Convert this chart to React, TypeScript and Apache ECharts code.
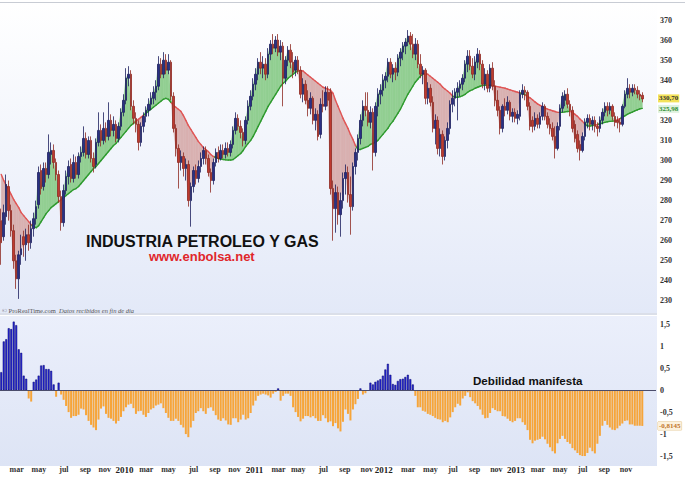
import React, { useEffect, useRef } from "react";
import * as echarts from "echarts";

// Weekly bars, first bar = week of Monday 2008-12-29
const FIRST_WEEK = "2008-12-29";
const EMPTY_WEEKS_AFTER = 5;
const MONTH_NAMES = ["ene", "feb", "mar", "abr", "may", "jun", "jul", "ago", "sep", "oct", "nov", "dic"];

const OPEN = [
  270,262,272,287,275,265,250,241,253,262,
  258,263,259,266,271,278,295,287,296,293,
  303,305,299,293,282,269,285,292,298,291,
  299,293,302,304,311,303,310,301,298,309,
  315,310,316,312,320,315,318,311,317,324,
  330,341,343,327,321,318,309,317,322,325,
  328,331,334,337,348,343,350,345,349,332,
  316,306,299,302,296,298,280,287,295,291,
  297,301,305,301,294,290,299,304,301,305,
  303,306,304,308,315,321,317,314,310,320,
  327,332,338,343,349,346,348,343,353,358,
  356,360,354,357,341,350,355,349,345,350,
  345,333,338,330,326,331,320,323,313,328,
  327,334,334,286,276,284,273,280,291,294,
  283,277,297,304,311,320,327,325,319,324,
  304,327,333,335,340,342,349,343,346,344,
  351,354,357,359,362,358,353,358,348,343,
  345,331,336,329,316,320,306,313,302,310,
  316,328,331,334,336,338,341,348,352,347,
  343,349,353,348,338,343,336,346,337,330,
  325,316,327,325,329,322,324,321,322,333,
  335,334,327,320,317,321,318,322,327,322,
  318,316,312,306,317,326,330,333,328,325,
  318,313,308,305,312,319,321,318,320,317,
  316,320,324,327,325,327,322,320,319,318,
  327,333,336,334,336,335,333,332.5
];
const HIGH = [
  276,278,293,290,278,268,253,255,263,265,
  266,268,270,274,280,297,298,299,299,313,
  309,308,301,295,285,288,295,300,301,303,
  302,304,307,317,314,312,312,304,311,324,
  318,324,319,329,323,322,320,319,326,333,
  346,347,345,330,324,320,319,324,327,331,
  334,337,340,352,351,354,353,353,350,334,
  318,308,305,304,301,300,289,297,298,300,
  304,307,307,303,296,301,306,307,308,308,
  309,309,310,317,324,323,320,316,322,330,
  335,341,346,351,354,352,351,356,360,363,
  362,363,360,359,352,357,358,354,352,352,
  347,341,340,335,334,332,326,325,331,335,
  337,337,336,290,288,287,284,294,298,297,
  292,299,306,313,323,330,334,334,327,326,
  329,336,338,343,344,351,351,348,349,353,
  356,359,361,365,364,363,361,360,353,347,
  346,339,338,332,323,322,316,315,312,319,
  330,335,336,339,340,343,350,355,355,351,
  352,356,355,350,346,345,348,349,340,335,
  327,328,331,332,330,326,326,325,335,338,
  337,335,329,322,324,323,324,329,328,324,
  321,319,317,319,328,334,335,336,330,327,
  320,315,310,314,321,323,323,322,322,319,
  322,326,329,329,329,328,324,322,321,328,
  335,341,338,338,338,337,335,334
];
const LOW = [
  248,260,268,270,262,246,236,231,248,252,
  250,255,256,262,268,276,283,285,289,291,
  298,296,290,279,265,267,283,288,289,289,
  291,291,299,302,301,301,299,294,296,307,
  307,308,309,310,312,312,309,309,315,322,
  328,337,325,318,314,305,307,314,319,322,
  325,328,330,335,341,341,343,343,330,314,
  302,286,295,292,290,277,267,284,288,289,
  294,298,298,292,284,288,297,299,300,301,
  301,302,302,306,313,315,311,307,308,318,
  325,330,335,340,343,341,340,341,350,353,
  354,352,350,327,338,347,346,341,342,343,
  331,329,328,322,323,318,315,310,311,324,
  325,327,283,260,264,268,262,276,283,279,
  263,275,293,300,308,317,322,317,316,295,
  302,322,328,332,336,339,341,339,340,342,
  347,350,353,357,355,351,350,346,341,338,
  328,328,327,314,308,303,302,298,300,306,
  313,324,327,320,332,335,339,344,345,341,
  340,346,345,336,335,334,334,335,327,322,
  313,314,322,323,320,319,319,318,320,331,
  330,325,315,314,315,316,316,320,320,316,
  313,310,301,305,315,324,327,326,322,314,
  309,304,300,304,310,316,315,315,314,312,
  314,318,322,322,323,320,317,316,314,317,
  326,331,331,332,333,331,330,329
];
const CLOSE = [
  259,274,288,275,265,250,241,253,256,258,
  263,259,266,271,277,294,286,296,293,304,
  305,299,293,282,269,285,292,297,291,299,
  293,302,304,311,303,310,301,297,309,315,
  310,316,312,320,315,318,311,317,324,330,
  341,343,327,321,318,309,317,322,325,328,
  331,334,337,348,343,350,345,349,332,316,
  306,299,302,296,298,280,287,295,291,297,
  301,305,301,294,290,299,304,301,305,303,
  306,304,308,315,321,317,314,310,320,327,
  332,338,343,349,346,348,343,353,358,356,
  360,354,357,341,350,355,349,344,350,345,
  333,338,330,326,331,320,323,312,328,327,
  334,330,286,276,284,273,280,291,294,283,
  277,297,304,311,320,327,325,319,324,304,
  327,333,335,340,342,349,343,346,344,351,
  354,357,359,362,358,353,358,348,343,345,
  331,336,329,316,320,306,313,302,310,316,
  328,331,334,336,338,341,348,352,347,343,
  349,353,348,338,343,336,346,337,330,325,
  316,327,325,329,322,324,321,323,333,335,
  334,327,317,317,321,318,322,327,322,318,
  316,312,306,317,326,332,333,328,325,316,
  311,306,305,312,319,321,318,320,317,316,
  320,324,327,325,327,322,319,319,318,327,
  333,336,334,336,335,333,332,330.7
];
const MA = [
  293,290,287.5,285.5,283,280.5,278.5,276.5,274,272.5,
  271,269.5,268,267,266.5,267.5,269.5,271.5,273.5,275,
  276.5,277.5,278.5,279.5,280.5,281.5,282.5,283.5,284.5,285.5,
  286,287,288.5,290,291.5,293,294.5,296,297,298.5,
  300,301.5,303,304.5,306,307.5,308.5,310,311.5,313,
  314.5,316,317.5,318.5,319.5,320.5,321.5,322.5,323.5,324.5,
  325.5,326.5,327.5,328.5,329.5,330.5,331,330.5,329,327.5,
  326.5,325.5,324.5,322.5,320,317.5,315.5,313.5,311.5,309.5,
  308,306.5,305.5,304.5,303,302,301.5,301,300.7,300.5,
  300.3,300.2,300.2,300.5,301.5,302.5,303.5,305,307,308.5,
  310,312,314.5,317,319.5,322,324.5,327,329,331,
  333,335,337,338.5,339.5,341,342,343,344,344.6,
  344.8,344.6,343.5,342.5,341.5,340.5,339.5,338.5,337.5,336.5,
  336,335.5,335,333.5,330,327,324,321,318.5,316,
  313,310.5,307.5,305.5,305.5,306,306.5,307,308,308.5,
  309,310,311.5,313,314.5,316,318,319.5,321.5,323.5,
  325.5,328,330.5,333,335,337,339,340.5,342,343,
  343.2,343,342,341,340,339,338,336.5,335.5,334.5,
  333.5,332,331.5,331.5,331.8,332.3,333,334,334.8,335.3,
  336,336.5,337,337.4,337.5,337.5,337.5,337.3,337,336.8,
  336.5,336.3,336,335.6,335.2,334.8,334.4,334,333.6,333.2,
  332.7,332,331.2,330.3,329.2,328.2,327.5,326.8,326.2,325.6,
  325.2,324.8,324.4,324,324,324,324.2,324.4,324.5,324,
  323,322,320.7,319.5,318.2,317.2,317.2,317.4,317.6,317.9,
  318.2,318.6,319,319.3,319.5,319.6,319.7,320.2,320.8,321.5,
  322.2,323,323.6,324.1,324.7,325.2,325.7,325.98
];
const OSC = [
  0.41,1.11,1.16,1.41,1.39,1.56,1.48,0.93,0.85,0.33,
  0.26,-0.19,-0.26,0.19,0.24,0.33,0.56,0.57,0.48,0.48,
  0.44,0.13,-0.15,0.17,-0.1,-0.22,-0.36,-0.5,-0.63,-0.59,
  -0.59,-0.56,-0.42,-0.44,-0.57,-0.7,-0.79,-0.85,-0.91,-0.67,
  -0.42,-0.37,-0.54,-0.63,-0.65,-0.7,-0.76,-0.7,-0.61,-0.48,
  -0.39,-0.33,-0.31,-0.41,-0.54,-0.48,-0.47,-0.56,-0.61,-0.52,
  -0.44,-0.41,-0.35,-0.33,-0.3,-0.41,-0.52,-0.63,-0.7,-0.7,
  -0.65,-0.7,-0.79,-0.85,-1.0,-1.07,-0.85,-0.7,-0.52,-0.48,
  -0.41,-0.48,-0.54,-0.41,-0.39,-0.47,-0.57,-0.67,-0.7,-0.64,
  -0.69,-0.78,-0.79,-0.64,-0.64,-0.73,-0.67,-0.56,-0.67,-0.64,
  -0.52,-0.35,-0.24,-0.13,-0.1,-0.08,-0.1,-0.12,-0.17,-0.08,
  -0.04,0.04,-0.24,-0.13,-0.08,-0.08,-0.13,-0.39,-0.5,-0.61,
  -0.71,-0.65,-0.59,-0.59,-0.62,-0.59,-0.64,-0.7,-0.7,-0.57,
  -0.64,-0.73,-0.71,-0.82,-0.75,-0.87,-0.94,-0.72,-0.44,-0.54,
  -0.69,-0.44,-0.32,-0.2,0.04,-0.1,-0.07,-0.02,0.17,0.13,
  0.19,0.22,0.25,0.33,0.47,0.6,0.35,0.14,0.12,0.21,
  0.25,0.26,0.3,0.35,0.25,0.13,-0.13,-0.39,-0.39,-0.47,
  -0.49,-0.54,-0.56,-0.59,-0.63,-0.66,-0.67,-0.73,-0.7,-0.73,
  -0.62,-0.5,-0.39,-0.31,-0.35,-0.19,-0.13,-0.05,-0.16,-0.25,
  -0.3,-0.36,-0.44,-0.56,-0.64,-0.63,-0.52,-0.41,-0.45,-0.48,
  -0.48,-0.59,-0.6,-0.65,-0.7,-0.73,-0.7,-0.64,-0.64,-0.73,
  -0.79,-0.91,-1.13,-1.21,-1.15,-1.13,-1.11,-1.06,-1.12,-1.22,
  -1.3,-1.39,-1.44,-1.21,-1.11,-1.04,-1.11,-1.18,-1.22,-1.32,
  -1.37,-1.43,-1.48,-1.5,-1.5,-1.43,-1.31,-1.39,-1.44,-1.22,
  -1.04,-0.81,-0.7,-0.79,-0.85,-0.9,-0.91,-0.87,-0.81,-0.76,
  -0.7,-0.69,-0.78,-0.78,-0.81,-0.81,-0.81,-0.8145
];

const TITLE = "INDUSTRIA PETROLEO Y GAS";
const SUBTITLE = "www.enbolsa.net";
const OSC_NOTE = "Debilidad manifesta";
const SOURCE = "© ProRealTime.com";
const SOURCE_NOTE = "Datos recibidos en fin de dia";

const GREEN_FILL = "#92cf92";
const RED_FILL = "#d9b1b1";
const GREEN_LINE = "#2e9a2e";
const RED_LINE = "#e05555";
const SERIF = '"Liberation Serif", "DejaVu Serif", serif';
const SANS = '"Liberation Sans", Arial, sans-serif';

const comma = (v: number, d: number) => v.toFixed(d).replace(".", ",");

export default function App() {
  const ref = useRef<HTMLDivElement>(null);
  useEffect(() => {
    if (!ref.current) return;
    const chart = echarts.init(ref.current, undefined, { renderer: "svg" });
    const DAY = 86400000;
    const [fy, fm, fd] = FIRST_WEEK.split("-").map(Number);
    const base = Date.UTC(fy, fm - 1, fd);
    const n = CLOSE.length;
    const lastC = CLOSE[n - 1];
    const lastM = MA[n - 1];
    const lastO = OSC[OSC.length - 1];
    const cats = Array.from({ length: n + EMPTY_WEEKS_AFTER }, (_, i) =>
      new Date(base + i * 7 * DAY).toISOString().slice(0, 10)
    );
    const isLabel = (index: number, value: string) => {
      if (index < 4 || index >= n) return false;
      const d = new Date(value + "T00:00:00Z");
      const p = new Date(d.getTime() - 7 * DAY);
      return d.getUTCMonth() !== p.getUTCMonth() && d.getUTCMonth() % 2 === 0;
    };
    const fmtLabel = (value: string) => {
      const d = new Date(value + "T00:00:00Z");
      const m = d.getUTCMonth();
      return m === 0 ? `{y|${d.getUTCFullYear()}}` : `{m|${MONTH_NAMES[m]}}`;
    };

    const candles = CLOSE.map((c, i) => [OPEN[i], c, LOW[i], HIGH[i]]);
    const bands = CLOSE.slice(0, -1).map((c, i) => [i, c, MA[i], CLOSE[i + 1], MA[i + 1]]);

    const renderBand = (line: boolean) => (params: any, api: any) => {
      const i = api.value(0);
      const c0 = api.value(1), m0 = api.value(2), c1 = api.value(3), m1 = api.value(4);
      const P0 = api.coord([i, c0]), P1 = api.coord([i + 1, c1]);
      const Q0 = api.coord([i, m0]), Q1 = api.coord([i + 1, m1]);
      const d0 = c0 - m0, d1 = c1 - m1;
      const children: any[] = [];
      const fillOf = (d: number) => (d >= 0 ? GREEN_FILL : RED_FILL);
      const lineOf = (d: number) => (d >= 0 ? GREEN_LINE : RED_LINE);
      const poly = (pts: number[][], col: string) => ({
        type: "polygon",
        shape: { points: pts },
        style: { fill: col, stroke: col, lineWidth: 0.6 },
      });
      const seg = (a: number[], b: number[], col: string) => ({
        type: "line",
        shape: { x1: a[0], y1: a[1], x2: b[0], y2: b[1] },
        style: { stroke: col, lineWidth: 1.4, lineCap: "round" },
      });
      if ((d0 >= 0) === (d1 >= 0)) {
        if (line) children.push(seg(Q0, Q1, lineOf(d0 + d1)));
        else children.push(poly([P0, P1, Q1, Q0], fillOf(d0 + d1)));
      } else {
        const t = d0 / (d0 - d1);
        const X = [P0[0] + t * (P1[0] - P0[0]), Q0[1] + t * (Q1[1] - Q0[1])];
        if (line) {
          children.push(seg(Q0, X, lineOf(d0)));
          children.push(seg(X, Q1, lineOf(d1)));
        } else {
          children.push(poly([P0, X, Q0], fillOf(d0)));
          children.push(poly([X, P1, Q1], fillOf(d1)));
        }
      }
      return { type: "group", children };
    };

    const yLabelStyle = { fontFamily: SERIF, fontSize: 8, color: "#333", fontWeight: "bold" as const };
    // price labels hidden where the last-value tags sit
    const nearTag = (v: number) => Math.abs(v - lastC) < 4 || Math.abs(v - lastM) < 4;

    const option: any = {
      animation: false,
      grid: [
        { left: 0, width: 656, top: -14.25, height: 335.2 },
        { left: 0, width: 656, top: 302.3, height: 180 },
      ],
      xAxis: [
        { type: "category", gridIndex: 0, data: cats, show: false },
        {
          type: "category",
          gridIndex: 1,
          data: cats,
          offset: -16.3,
          axisLine: { show: false },
          axisTick: { show: false },
          axisLabel: {
            interval: isLabel,
            formatter: fmtLabel,
            align: "right",
            margin: 4,
            rich: {
              y: { fontFamily: SERIF, fontSize: 9, fontWeight: "bold", color: "#222" },
              m: { fontFamily: SERIF, fontSize: 8, fontWeight: "bold", color: "#333" },
            },
          },
        },
      ],
      yAxis: [
        {
          type: "value",
          gridIndex: 0,
          position: "right",
          min: 220,
          max: 380,
          interval: 10,
          splitLine: { show: false },
          axisLine: { show: false },
          axisTick: { show: false },
          axisLabel: {
            ...yLabelStyle,
            margin: 4,
            formatter: (v: number) => (v < 230 || v > 370 || nearTag(v) ? "" : String(v)),
          },
        },
        {
          type: "value",
          gridIndex: 1,
          position: "right",
          min: -2,
          max: 2,
          interval: 0.5,
          splitLine: { show: false },
          axisLine: { show: false },
          axisTick: { show: false },
          axisLabel: {
            ...yLabelStyle,
            margin: 4,
            formatter: (v: number) => (Math.abs(v) > 1.5 ? "" : String(v).replace(".", ",")),
          },
        },
      ],
      series: [
        {
          type: "custom",
          name: "zona",
          xAxisIndex: 0,
          yAxisIndex: 0,
          z: 1,
          silent: true,
          data: bands,
          encode: { x: 0, y: [1, 2, 3, 4] },
          renderItem: renderBand(false),
        },
        {
          type: "custom",
          name: "media",
          xAxisIndex: 0,
          yAxisIndex: 0,
          z: 2,
          silent: true,
          data: bands,
          encode: { x: 0, y: [1, 2, 3, 4] },
          renderItem: renderBand(true),
        },
        {
          type: "candlestick",
          xAxisIndex: 0,
          yAxisIndex: 0,
          z: 3,
          barWidth: 2,
          data: candles,
          itemStyle: {
            color: "#2b2f86",
            color0: "#bf3a30",
            borderColor: "#1d1f5e",
            borderColor0: "#8e2a22",
            borderWidth: 0.8,
          },
        },
        {
          type: "bar",
          xAxisIndex: 1,
          yAxisIndex: 1,
          barWidth: 2,
          data: OSC.map((v) => ({
            value: v,
            itemStyle: {
              color: v >= 0 ? "#2323d6" : "#f6a53a",
              borderColor: v >= 0 ? "#0b0b6e" : "#f6a53a",
              borderWidth: v >= 0 ? 0.5 : 0,
            },
          })),
          markLine: {
            silent: true,
            symbol: "none",
            label: { show: false },
            lineStyle: { color: "#4b4d6b", width: 1, type: "solid" },
            data: [{ yAxis: 0 }],
          },
        },
      ],
      graphic: [
        {
          id: "bgTop",
          type: "rect",
          z: -10,
          silent: true,
          shape: { x: 0, y: 3, width: 657, height: 310 },
          style: {
            fill: new echarts.graphic.LinearGradient(0, 0, 0, 1, [
              { offset: 0, color: "#ffffff" },
              { offset: 1, color: "#e3e9f8" },
            ]),
          },
        },
        {
          id: "bgBottom",
          type: "rect",
          z: -10,
          silent: true,
          shape: { x: 0, y: 316, width: 657, height: 150 },
          style: {
            fill: new echarts.graphic.LinearGradient(0, 0, 0, 1, [
              { offset: 0, color: "#ebeffb" },
              { offset: 1, color: "#dde4f5" },
            ]),
          },
        },
        {
          id: "topLine",
          type: "line",
          z: -9,
          silent: true,
          shape: { x1: 0, y1: 2.5, x2: 685, y2: 2.5 },
          style: { stroke: "#c8ccd4", lineWidth: 1 },
        },
        {
          id: "sepLine",
          type: "line",
          z: -9,
          silent: true,
          shape: { x1: 0, y1: 314, x2: 657, y2: 314 },
          style: { stroke: "#cfd5e2", lineWidth: 1.5 },
        },
        {
          id: "title",
          type: "text",
          z: 10,
          x: 86,
          y: 241,
          style: {
            text: TITLE,
            font: `bold 16px ${SANS}`,
            fill: "#111",
            textVerticalAlign: "middle",
            verticalAlign: "middle",
          },
        },
        {
          id: "subtitle",
          type: "text",
          z: 10,
          x: 149,
          y: 256,
          style: {
            text: SUBTITLE,
            font: `bold 13px ${SANS}`,
            fill: "#e0262b",
            textVerticalAlign: "middle",
            verticalAlign: "middle",
          },
        },
        {
          id: "note",
          type: "text",
          z: 10,
          x: 473,
          y: 380,
          style: {
            text: OSC_NOTE,
            font: `bold 11.6px ${SANS}`,
            fill: "#111",
            textVerticalAlign: "middle",
            verticalAlign: "middle",
          },
        },
        {
          id: "source",
          type: "text",
          z: 10,
          x: 2,
          y: 310,
          style: {
            text: `${SOURCE}  {i|${SOURCE_NOTE}}`,
            font: `6.5px ${SERIF}`,
            fill: "#555",
            textVerticalAlign: "middle",
            verticalAlign: "middle",
            rich: { i: { fontStyle: "italic", fontSize: 6.5, fontFamily: SERIF, fill: "#555" } },
          },
        },
      ],
    };
    chart.setOption(option);

    const yC = chart.convertToPixel({ yAxisIndex: 0 }, lastC) as number;
    const yM = chart.convertToPixel({ yAxisIndex: 0 }, lastM) as number;
    const yO = chart.convertToPixel({ yAxisIndex: 1 }, lastO) as number;
    const tag = (id: string, y: number, text: string, fill: string, bg: string, border: string) => ({
      id,
      type: "text",
      z: 20,
      x: 658,
      y,
      style: {
        text,
        font: `bold 7px ${SERIF}`,
        lineHeight: 8,
        fill,
        backgroundColor: bg,
        borderColor: border,
        borderWidth: border ? 0.5 : 0,
        padding: [0, 1, 0, 1],
        textVerticalAlign: "middle",
        verticalAlign: "middle",
      },
    });
    chart.setOption({
      graphic: [
        tag("tagClose", yC - 0.5, comma(lastC, 2), "#333", "#f3e259", ""),
        tag("tagMA", yM + 0.5, comma(lastM, 2), "#2f8f2f", "#dff2df", ""),
        tag("tagOsc", yO, comma(lastO, 4), "#c0742a", "#fcf1dc", "#e3c48c"),
      ],
    });

    return () => chart.dispose();
  }, []);
  return (
    <div
      ref={ref}
      style={{ position: "fixed", left: 0, top: 0, width: 685, height: 478, background: "#fff" }}
    />
  );
}
